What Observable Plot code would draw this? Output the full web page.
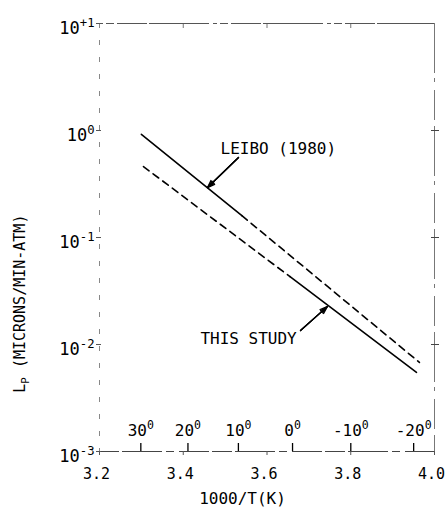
<!DOCTYPE html>
<html><head><meta charset="utf-8">
<script src="https://cdn.jsdelivr.net/npm/d3@7"></script>
<script src="https://cdn.jsdelivr.net/npm/@observablehq/plot@0.6"></script>
<style>body{margin:0;background:#fff}</style>
</head><body><div id="chart"></div>
<script>
// Data
const leiboX = [3.300, 3.540, 3.964];
const leiboY = [0.92, 0.16, 0.0068];
const studyX = [3.305, 3.655, 3.957];
const studyY = [0.46, 0.043, 0.0055];
const xTicks = [3.2, 3.4, 3.6, 3.8, 4.0];
const xTickLabels = ["3.2", "3.4", "3.6", "3.8", "4.0"];
const yTicks = [10, 1, 0.1, 0.01, 0.001];
const yTickLabels = ["10⁺¹", "10⁰", "10⁻¹", "10⁻²", "10⁻³"];
const celsius = [30, 20, 10, 0, -10, -20];
const celsiusLabels = ["30⁰", "20⁰", "10⁰", "0⁰", "-10⁰", "-20⁰"];
const annotations = ["LEIBO (1980)", "THIS STUDY"];
const annotX = [3.489, 3.441];
const annotY = [0.68, 0.0114];
const arrowFromX = [3.532, 3.680];
const arrowFromY = [0.56, 0.0135];
const arrowToX = [3.458, 3.744];
const arrowToY = [0.293, 0.0226];

const leibo = leiboX.map((x, i) => ({x, y: leiboY[i]}));
const study = studyX.map((x, i) => ({x, y: studyY[i]}));
const celsiusX = celsius.map(c => 1000 / (c + 273.15));
const notes = annotations.map((t, i) => ({t, x: annotX[i], y: annotY[i]}));
const arrows = arrowFromX.map((x1, i) => ({x1, y1: arrowFromY[i], x2: arrowToX[i], y2: arrowToY[i]}));
const blank = () => "";
const arrowOpts = {x1: "x1", y1: "y1", x2: "x2", y2: "y2", stroke: "#000", strokeWidth: 1.3, headLength: 9};

const chart = Plot.plot({
  width: 446, height: 510,
  marginLeft: 99, marginRight: 12, marginTop: 23, marginBottom: 59,
  style: {fontFamily: "'DejaVu Sans Mono', monospace", fontSize: "16px", background: "#fff", color: "#000"},
  x: {domain: [3.2, 4.0], axis: null},
  y: {type: "log", domain: [0.001, 10], axis: null},
  marks: [
    // frame (worn, as in the reference)
    Plot.ruleY([10], {stroke: "#555", strokeWidth: 1, strokeDasharray: "4,3,8,3,30,2,60,4"}),
    Plot.ruleY([0.001], {stroke: "#444", strokeWidth: 1, strokeDasharray: "20,3,40,4,8,5,30,3"}),
    Plot.ruleX([3.2], {stroke: "#888", strokeWidth: 1, strokeDasharray: "5,12"}),
    Plot.ruleX([4.0], {stroke: "#777", strokeWidth: 1, strokeDasharray: "50,5,4,8,30,6"}),
    Plot.axisX({anchor: "top", ticks: xTicks.slice(1, 4), tickSize: 4, dy: 4, stroke: "#777", tickFormat: blank, label: null}),
    // y axis
    Plot.axisY({ticks: yTicks, tickSize: 5, dx: 2, stroke: "#555", tickFormat: blank, label: null}),
    Plot.axisY({ticks: yTicks, tickFormat: d => yTickLabels[yTicks.indexOf(d)], tickSize: 0, tickPadding: 5, dy: 5, fontSize: 17, fill: "#000", label: null}),
    Plot.axisY({anchor: "right", ticks: yTicks.slice(1, 4), tickSize: 8, dx: -4, stroke: "#444", tickFormat: blank, label: null}),
    // x axis
    Plot.axisX({ticks: xTicks, tickSize: 4, stroke: "#555", tickFormat: blank, label: null}),
    Plot.axisX({ticks: xTicks, tickSize: 0, tickPadding: 17, dx: -3, tickFormat: d => xTickLabels[xTicks.indexOf(d)], fontSize: 15, fill: "#000", label: null}),
    // temperature (Celsius) scale
    Plot.axisX({ticks: celsiusX, tickSize: 8, dy: -8, stroke: "#000", strokeWidth: 1.3, tickFormat: blank, label: null}),
    Plot.text(celsiusX, {x: d => d, text: (d, i) => celsiusLabels[i], frameAnchor: "bottom", dy: -16, lineAnchor: "bottom", fontSize: 16}),
    // lines
    Plot.line(leibo.slice(0, 2), {x: "x", y: "y", stroke: "#000", strokeWidth: 1.6}),
    Plot.line(leibo.slice(1), {x: "x", y: "y", stroke: "#000", strokeWidth: 1.6, strokeDasharray: "7,5"}),
    Plot.line(study.slice(0, 2), {x: "x", y: "y", stroke: "#000", strokeWidth: 1.6, strokeDasharray: "7,5"}),
    Plot.line(study.slice(1), {x: "x", y: "y", stroke: "#000", strokeWidth: 1.6}),
    // annotations (arrow drawn with several head angles to look filled)
    Plot.arrow(arrows, {...arrowOpts, headAngle: 40}),
    Plot.arrow(arrows, {...arrowOpts, headAngle: 24}),
    Plot.arrow(arrows, {...arrowOpts, headAngle: 10}),
    Plot.text(notes, {x: "x", y: "y", text: "t", textAnchor: "start", fontSize: 16}),
    // axis labels
    Plot.text(["1000/T(K)"], {x: () => 3.5415, frameAnchor: "bottom", dy: 52, fontSize: 16}),
    Plot.text(["Lₚ (MICRONS/MIN-ATM)"], {y: () => 0.0241, frameAnchor: "left", textAnchor: "middle", dx: -79, rotate: -90, fontSize: 15})
  ]
});
document.getElementById("chart").appendChild(chart);

// Render unicode super/subscripts as raised/lowered smaller text (still real text)
const supMap = {"⁰": "0", "¹": "1", "²": "2", "³": "3", "⁺": "+", "⁻": "-"};
const subMap = {"ₚ": "P"};
d3.select(chart).selectAll("text").each(function () {
  const s = this.textContent;
  if (![...s].some(c => supMap[c] || subMap[c])) return;
  const runs = [];
  for (const c of s) {
    const kind = supMap[c] ? "sup" : subMap[c] ? "sub" : "n";
    const ch = supMap[c] || subMap[c] || c;
    if (runs.length && runs[runs.length - 1].kind === kind) runs[runs.length - 1].t += ch;
    else runs.push({kind, t: ch});
  }
  this.textContent = "";
  let shift = 0;
  for (const r of runs) {
    const target = r.kind === "sup" ? -7 : r.kind === "sub" ? 4 : 0;
    const ts = d3.select(this).append("tspan").text(r.t).attr("dy", target - shift);
    if (r.kind !== "n") ts.attr("font-size", "0.72em");
    shift = target;
  }
});
</script>
</body></html>
